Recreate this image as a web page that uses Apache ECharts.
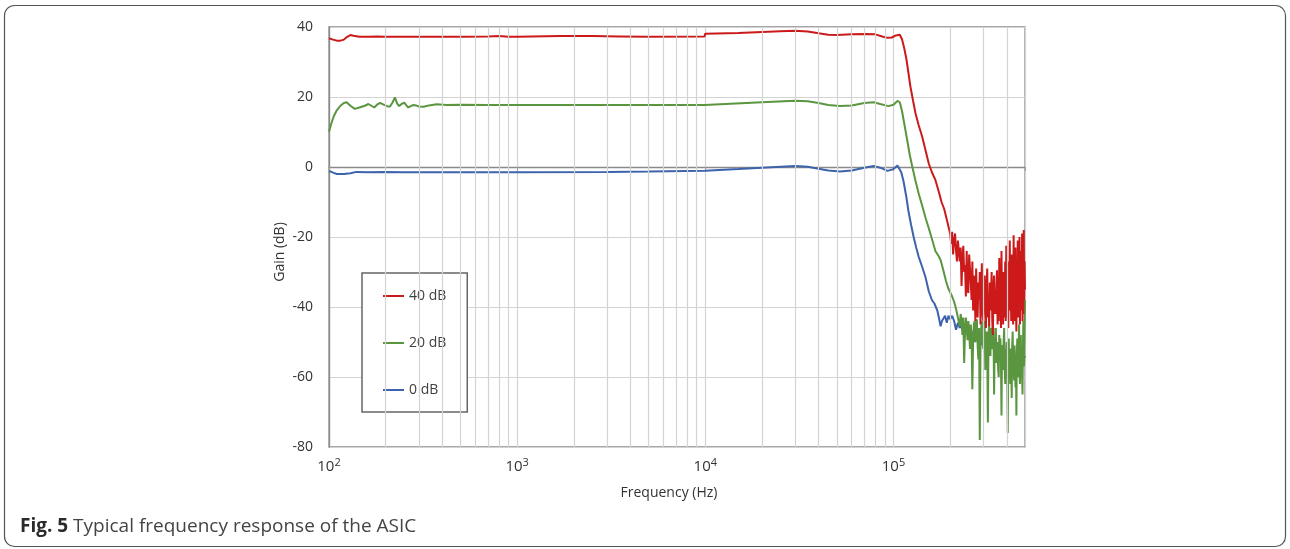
<!DOCTYPE html>
<html>
<head>
<meta charset="utf-8">
<script src="https://cdn.jsdelivr.net/npm/echarts@6/dist/echarts.min.js"></script>
<style>
html,body{margin:0;padding:0;background:#fff;}
#chart{width:1290px;height:549px;}
</style>
</head>
<body>
<div id="chart"></div>
<script>
// ---- data (frequency in Hz, gain in dB) ----
const seriesNames = ['40 dB', '20 dB', '0 dB'];

const gain40dB = [
 [100,36.8],[105,36.4],[110,36.1],[115,36.1],[120,36.4],[125,37.2],[130,37.7],[135,37.5],[145,37.2],[160,37.2],
 [180,37.3],[200,37.2],[300,37.2],[500,37.2],[700,37.3],[800,37.4],[900,37.2],[1000,37.2],[1700,37.4],[2500,37.4],
 [3500,37.3],[5000,37.2],[9900,37.3],[10000,38.1],[15000,38.3],[20000,38.6],[25000,38.8],[30000,38.9],[35000,38.7],
 [40000,38.2],[45000,37.8],[50000,37.7],[60000,37.9],[70000,38.0],[80000,37.9],[88000,37.2],[93000,36.9],[98000,37.0],
 [103000,37.6],[108000,37.8],[111000,36.5],[114000,34.0],[117000,31.0],[120000,27.0],[123000,23.0],[127000,19.0],
 [131000,15.3],[136000,12.0],[142000,8.7],[148000,4.8],[154000,1.0],[160000,-1.5],[167000,-3.7],[174000,-7.0],
 [180000,-10.0],[186000,-12.0],[192000,-15.0],
 [200000,-19],[202500,-22],[205000,-18.5],[207500,-25],[210000,-21],[212500,-19],[215000,-24],[217500,-27],[220000,-21],[222500,-20.5],
 [225000,-27],[227500,-23],[230000,-34],[232500,-26],[235000,-22.5],[237500,-30],[240000,-28],[242500,-37],[245000,-24],[247500,-35],
 [250000,-36],[252500,-25],[255000,-29],[257500,-33],[260000,-38],[262500,-27],[265000,-41],[267500,-31],[270000,-35],[272500,-44],
 [275000,-29],[277500,-40],[280000,-43],[282500,-33],[285000,-38],[287500,-30],[290000,-45],[292500,-36],[295000,-27.5],[297500,-42],
 [300000,-44],[302500,-34],[305000,-31],[307500,-40],[310000,-46],[312500,-33],[315000,-29],[317500,-43],[320000,-38],[322500,-45.5],
 [325000,-33],[327500,-41],[330000,-36],[332500,-30],[335000,-44],[337500,-48],[340000,-35],[342500,-31],[345000,-42],[347500,-39],
 [350000,-42],[352500,-34],[355000,-29.5],[357500,-45],[360000,-37],[362500,-44],[365000,-26],[367500,-40],[370000,-33],[372500,-46],
 [375000,-24],[377500,-41],[380000,-35],[382500,-45],[385000,-30],[387500,-43],[390000,-38],[392500,-27],[395000,-44],[397500,-22.5],
 [400000,-43],[402500,-31],[405000,-37],[407500,-46],[410000,-27],[412500,-41],[415000,-21],[417500,-39],[420000,-34],[422500,-44],
 [425000,-25],[427500,-42],[430000,-36],[432500,-45],[435000,-19.5],[437500,-38],[440000,-30],[442500,-44],[445000,-23],[447500,-40],
 [450000,-47],[452500,-28],[455000,-36],[457500,-21],[460000,-43],[462500,-33],[465000,-39],[467500,-20],[470000,-45],[472500,-29],
 [475000,-24],[477500,-41],[480000,-36],[482500,-19],[485000,-44],[487500,-30],[490000,-42],[492500,-18],[495000,-38],[497500,-27],
 [500000,-35]
];

const gain20dB = [
 [100,10.1],[103,12.5],[106,14.5],[110,16.2],[115,17.5],[120,18.3],[124,18.5],[130,17.5],[137,16.6],[145,17.0],
 [155,17.5],[162,18.0],[168,17.5],[174,17.0],[180,17.8],[187,18.3],[195,17.8],[205,17.3],[211,17.3],[218,18.5],
 [224,19.9],[230,18.2],[236,17.4],[243,18.0],[251,18.4],[258,17.6],[264,17.0],[272,17.4],[281,17.7],[290,17.6],
 [300,17.3],[318,17.2],[340,17.6],[374,17.9],[420,17.7],[500,17.8],[700,17.7],[1000,17.7],[3000,17.7],[9900,17.7],
 [10000,17.8],[20000,18.5],[30000,18.9],[35000,18.8],[40000,18.3],[45000,17.7],[52000,17.4],[60000,17.6],[70000,18.3],
 [78500,18.5],[85000,18.0],[94000,17.4],[100000,17.8],[105000,18.9],[108000,18.5],[111000,16.0],[114000,12.5],
 [118000,8.0],[122000,3.5],[126000,0.0],[131000,-4.0],[136000,-7.5],[142000,-11.0],[148000,-14.5],[154000,-17.5],
 [160000,-20.5],[167000,-24.0],[174000,-25.5],[178000,-26.6],[184000,-29.5],[190000,-32.5],[195000,-34.5],
 [200000,-35.8],[205000,-37.0],[210000,-38.5],[215000,-40.5],[220000,-43.0],
 [225000,-45.5],[227500,-42],[230000,-44],[232500,-48],[235000,-43],[237500,-56],[240000,-47],[242500,-43],[245000,-46],[247500,-49.5],
 [250000,-44],[252500,-47],[255000,-52],[257500,-45],[260000,-48],[262500,-63.5],[265000,-50],[267500,-45],[270000,-44],[272500,-50],
 [275000,-47],[277500,-43.5],[280000,-51],[282500,-55],[285000,-46],[287500,-78],[290000,-52],[292500,-46],[295000,-44],[297500,-49],
 [300000,-52],[302500,-45],[305000,-44],[307500,-58],[310000,-50],[312500,-47],[315000,-53],[317500,-73],[320000,-48],[322500,-45],
 [325000,-50],[327500,-54],[330000,-46],[332500,-47],[335000,-52],[337500,-51],[340000,-46],[342500,-65],[345000,-49],[347500,-53],
 [350000,-46],[352500,-56],[355000,-51],[357500,-50],[360000,-58],[362500,-60],[365000,-48],[367500,-53],[370000,-49],[372500,-55],
 [375000,-71],[377500,-51],[380000,-54],[382500,-58],[385000,-50],[387500,-46],[390000,-57],[392500,-62],[395000,-52],[397500,-55],
 [400000,-50],[402500,-59],[405000,-76],[407500,-53],[410000,-49],[412500,-60],[415000,-55],[417500,-62],[420000,-52],[422500,-57],
 [425000,-66],[427500,-51],[430000,-47],[432500,-58],[435000,-54],[437500,-61],[440000,-51],[442500,-56],[445000,-63],[447500,-55],
 [450000,-71],[452500,-53],[455000,-49],[457500,-57],[460000,-60],[462500,-52],[465000,-45],[467500,-58],[470000,-62],[472500,-54],
 [475000,-48],[477500,-59],[480000,-55],[482500,-60],[485000,-65],[487500,-52],[490000,-44],[492500,-57],[495000,-56],[497500,-46],
 [500000,-38]
];

const gain0dB = [
 [100,-1.1],[105,-1.6],[110,-2.0],[120,-2.0],[130,-1.8],[140,-1.4],[160,-1.5],[200,-1.4],[250,-1.5],[300,-1.5],
 [500,-1.5],[1000,-1.5],[3000,-1.4],[5000,-1.3],[10000,-1.1],[15000,-0.6],[20000,-0.2],[30000,0.3],[35000,0.1],
 [40000,-0.5],[45000,-1.0],[52000,-1.3],[60000,-1.0],[70000,-0.2],[78500,0.3],[85000,-0.2],[93000,-1.1],[100000,-0.6],
 [105000,0.4],[107000,0.4],[110000,-1.5],[113000,-4.0],[117000,-8.5],[120000,-12.5],[124000,-16.5],[128000,-20.0],
 [132000,-23.0],[136000,-25.6],[142000,-28.5],[148000,-31.5],[154000,-35.5],[160000,-38.0],[165000,-39.0],[171000,-41.0],
 [175000,-43.5],[178000,-45.5],[181000,-44.0],[184000,-43.5],[188000,-42.5],[192000,-44.5],[196000,-42.5],[200000,-43.5],
 [205000,-42.5],[210000,-44.0],[215000,-46.5],[220000,-44.5],[225000,-46.0],[230000,-45.0],[235000,-47.0],[240000,-46.0],
 [250000,-48.5],[260000,-47.0],[270000,-50.0],[280000,-48.0],[290000,-51.0],[300000,-49.0],[320000,-52.0],[340000,-50.0],
 [360000,-53.5],[380000,-51.0],[400000,-54.0],[420000,-52.0],[440000,-55.0],[460000,-53.0],[480000,-56.0],[500000,-54.0]
];

const minorGridFreqs = [200,300,400,500,600,700,800,900,2000,3000,4000,5000,6000,7000,8000,9000,
 20000,30000,40000,50000,60000,70000,80000,90000,200000,300000,400000];

const yTicks = { min: -80, max: 40, step: 20 };
const xRange = { min: 100, max: 500000 };

// ---- chart ----
const FONT = '"Open Sans", "DejaVu Sans", sans-serif';
const chart = echarts.init(document.getElementById('chart'), null, { renderer: 'canvas' });

const lineColors = { '40 dB': '#cc1a1a', '20 dB': '#5a9540', '0 dB': '#3c63ab' };
const seriesData = { '40 dB': gain40dB, '20 dB': gain20dB, '0 dB': gain0dB };
const drawOrder = ['0 dB', '20 dB', '40 dB'];

const option = {
  animation: false,
  backgroundColor: '#ffffff',
  grid: { left: 329, right: 265, top: 27, bottom: 102, show: true, borderColor: '#8a8a8a', borderWidth: 1.3, backgroundColor: 'transparent' },
  xAxis: {
    type: 'log', logBase: 10, min: xRange.min, max: xRange.max,
    axisLine: { show: true, lineStyle: { color: '#8a8a8a', width: 1.3 } },
    axisTick: { show: true, length: 4, lineStyle: { color: '#a0a0a0' } },
    splitLine: { show: true, lineStyle: { color: '#d3d3d3', width: 1.2 } },
    axisLabel: {
      margin: 10, color: '#333', fontFamily: FONT, fontSize: 15, lineHeight: 20,
      formatter: function (v) {
        const l = Math.log10(v), e = Math.round(l);
        if (Math.abs(l - e) > 1e-6) return '';
        return '10{s|' + e + '}';
      },
      rich: { s: { fontSize: 11, lineHeight: 11, verticalAlign: 'top', fontFamily: FONT, color: '#333' } }
    }
  },
  yAxis: {
    type: 'value', min: yTicks.min, max: yTicks.max, interval: yTicks.step,
    axisLine: { show: true, lineStyle: { color: '#8a8a8a', width: 1.3 } },
    axisTick: { show: false },
    splitLine: { show: true, lineStyle: { color: '#d3d3d3', width: 1.2 } },
    axisLabel: { margin: 16, color: '#333', fontFamily: FONT, fontSize: 14 }
  },
  legend: {
    orient: 'vertical', left: 362, top: 273,
    data: seriesNames,
    icon: 'rect', itemWidth: 21, itemHeight: 2, itemGap: 31,
    padding: [15, 21, 14, 21],
    borderColor: '#666', borderWidth: 1.5, backgroundColor: '#ffffff',
    textStyle: { fontSize: 14, color: '#404040', lineHeight: 16, fontFamily: FONT }
  },
  graphic: [
    { type: 'rect', silent: true, z: 0,
      shape: { x: 4.5, y: 5.5, width: 1281, height: 541, r: 10 },
      style: { fill: 'none', stroke: '#555', lineWidth: 1.2 } },
    { type: 'text', silent: true, x: 20, y: 527,
      style: { text: '{b|Fig. 5} Typical frequency response of the ASIC', fontSize: 19, fontFamily: FONT, fill: '#444', verticalAlign: 'middle',
        rich: { b: { fontWeight: 'bold', fontSize: 19, fontFamily: FONT, fill: '#2a2a2a' } } } },
    { type: 'text', silent: true, x: 280, y: 252, rotation: Math.PI / 2,
      style: { text: 'Gain (dB)', fontSize: 14, fontFamily: FONT, fill: '#333', align: 'center', verticalAlign: 'middle' } },
    { type: 'text', silent: true, x: 669, y: 493,
      style: { text: 'Frequency (Hz)', fontSize: 14, fontFamily: FONT, fill: '#333', align: 'center', verticalAlign: 'middle' } }
  ],
  series: [
    {
      name: 'minor-grid', type: 'line', data: [], silent: true, z: 1,
      markLine: {
        silent: true, symbol: ['none', 'none'], label: { show: false },
        lineStyle: { color: '#d3d3d3', width: 1.2, type: 'solid' },
        emphasis: { disabled: true },
        data: minorGridFreqs.map(f => ({ xAxis: f }))
      }
    }
  ].concat(drawOrder.map(name => ({
    name: name, type: 'line', showSymbol: false, symbol: 'none', silent: true, z: 3,
    data: seriesData[name],
    lineStyle: { color: lineColors[name], width: 2 },
    itemStyle: { color: lineColors[name] }
  })))
};
chart.setOption(option);
</script>
</body>
</html>
